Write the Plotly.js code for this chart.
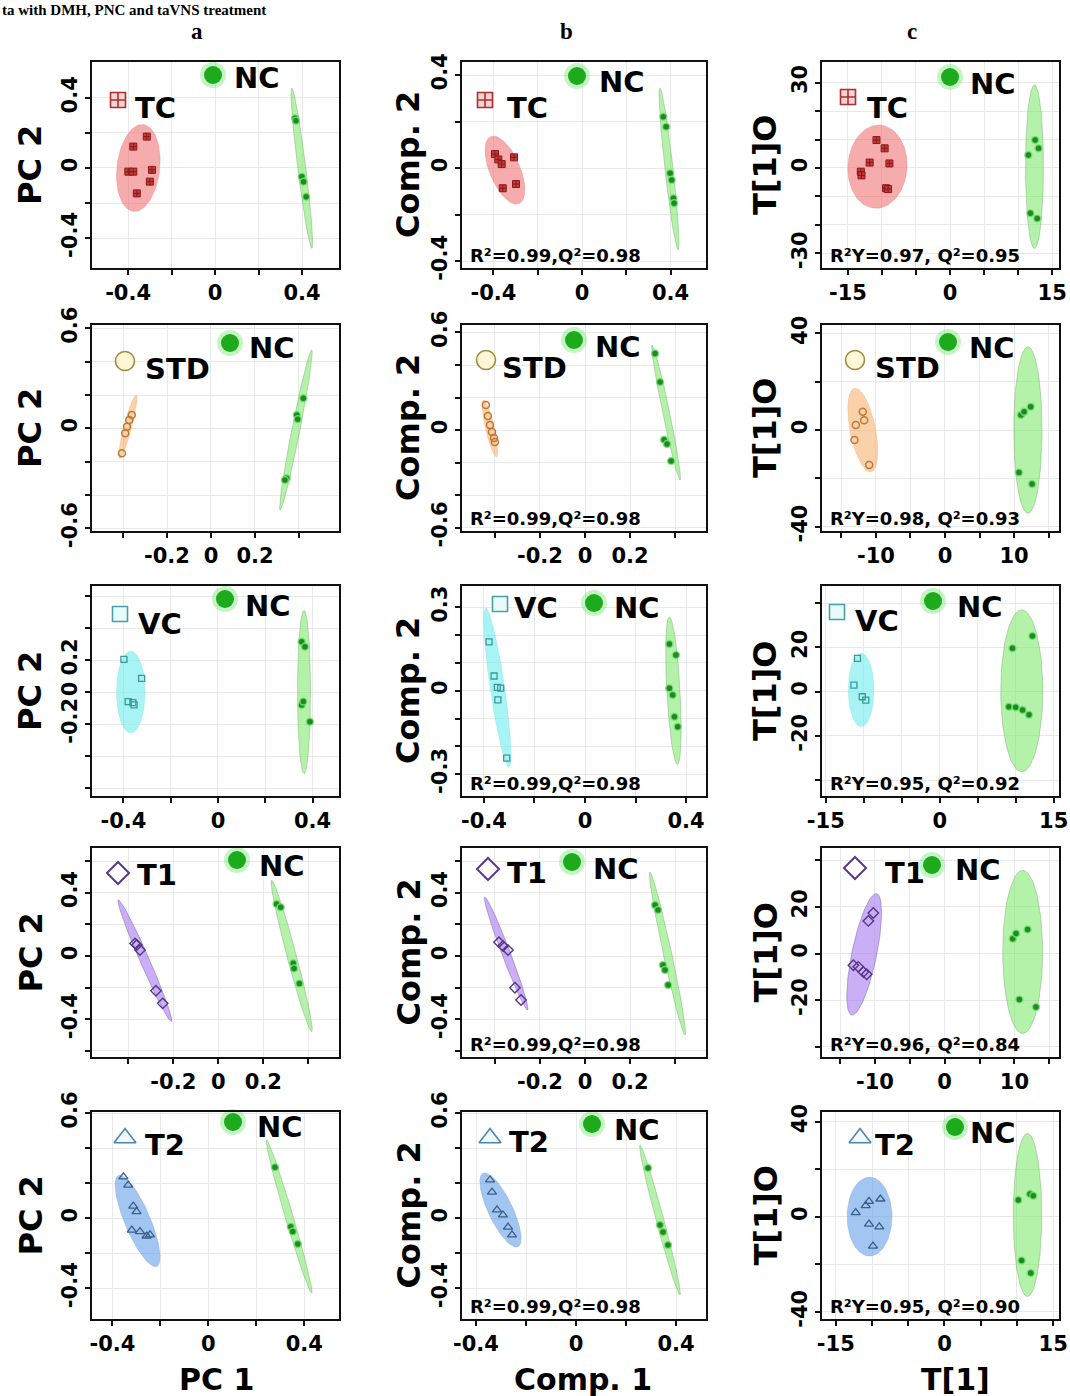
<!DOCTYPE html>
<html><head><meta charset="utf-8">
<script src="https://cdn.plot.ly/plotly-3.0.1.min.js"></script>
<style>body{margin:0;background:#fff}#chart{width:1070px;height:1396px}</style>
</head><body><div id="chart"></div>
<script>
// ---------------- DATA ----------------
// Row 1: TC vs NC
const a1TCx=[-0.314,-0.376,-0.399,-0.376,-0.29,-0.30,-0.36];
const a1TCy=[0.179,0.122,-0.021,-0.021,-0.011,-0.078,-0.145];
const a1NCx=[0.368,0.372,0.399,0.407,0.419];
const a1NCy=[0.284,0.27,-0.05,-0.078,-0.164];
const a1TCell=[-0.353,0,0.023,0.248,0.49];
const a1NCell=[0.399,-0.002,-0.046,0.457,0.05];

const b1TCx=[-0.393,-0.378,-0.363,-0.307,-0.358,-0.298];
const b1TCy=[0.060,0.037,0.017,0.046,-0.087,-0.069];
const b1NCx=[0.367,0.38,0.398,0.405,0.413,0.416];
const b1NCy=[0.221,0.178,-0.023,-0.052,-0.130,-0.152];
const b1TCell=[-0.348,-0.009,-0.064,0.144,0.42];
const b1NCell=[0.393,-0.004,-0.041,0.348,0.05];

const c1TCx=[-10.8,-9.6,-11.8,-8.9,-13.1,-13.0,-9.4,-9.1];
const c1TCy=[9.8,6.9,1.9,1.6,-1.3,-2.6,-7.1,-7.4];
const c1NCx=[11.5,12.5,13.0,11.8,12.8];
const c1NCy=[4.6,9.8,6.9,-15.9,-17.7];
const c1TCell=[-10.66,0.46,0.4,14.6,0.71];
const c1NCell=[12.4,0.46,0,28.7,0.11];

// Row 2: STD vs NC
const a2STDx=[-0.36,-0.372,-0.382,-0.39,-0.405];
const a2STDy=[0.08,0.05,0.01,-0.03,-0.15];
const a2NCx=[0.42,0.39,0.394,0.344,0.336];
const a2NCy=[0.18,0.08,0.054,-0.30,-0.31];
const a2STDell=[-0.378,0.01,0.038,0.19,0.12];
const a2NCell=[0.386,-0.01,0.072,0.48,0.05];

const b2STDx=[-0.44,-0.431,-0.422,-0.413,-0.404,-0.40];
const b2STDy=[0.154,0.086,0.031,-0.012,-0.049,-0.074];
const b2NCx=[0.311,0.333,0.351,0.364,0.382];
const b2NCy=[0.47,0.295,-0.06,-0.086,-0.19];
const b2STDell=[-0.422,0.01,-0.029,0.175,0.15];
const b2NCell=[0.36,0.108,-0.062,0.415,0.05];

const c2STDx=[-11.9,-11.7,-12.9,-13.1,-10.97];
const c2STDy=[7.6,4.1,2.1,-4.1,-14.5];
const c2NCx=[11.0,11.45,12.4,10.7,12.6];
const c2NCy=[6.2,7.6,9.7,-17.6,-22.3];
const c2STDell=[-11.9,0,-1.2,17.3,0.3];
const c2NCell=[12.0,0,0,34.5,0.17];

// Row 3: VC vs NC
const a3VCx=[-0.398,-0.323,-0.38,-0.36,-0.355];
const a3VCy=[0.204,0.085,-0.06,-0.066,-0.081];
const a3NCx=[0.354,0.368,0.354,0.361,0.389];
const a3NCy=[0.314,0.283,-0.081,-0.06,-0.186];
const a3VCell=[-0.369,0,0,0.255,0.35];
const a3NCell=[0.364,0,0,0.51,0.08];

const b3VCx=[-0.38,-0.36,-0.347,-0.334,-0.345,-0.31];
const b3VCy=[0.176,0.053,0.012,0.009,-0.033,-0.243];
const b3NCx=[0.334,0.36,0.334,0.347,0.354,0.367];
const b3NCy=[0.168,0.129,0.009,-0.015,-0.094,-0.13];
const b3VCell=[-0.347,0.011,-0.046,0.286,0.09];
const b3NCell=[0.35,0,-0.016,0.265,0.09];

const c3VCx=[-10.83,-11.3,-9.74,-10.2];
const c3VCy=[15.1,3.0,-3.8,-2.3];
const c3NCx=[9.57,12.2,9.1,10.0,10.9,11.75];
const c3NCy=[19.6,25.2,-6.8,-7.1,-8.3,-10.5];
const c3VCell=[-10.35,0.8,0,16.6,0.35];
const c3NCell=[10.8,0.4,0,36.6,0.26];

// Row 4: T1 vs NC
const a4T1x=[-0.37,-0.362,-0.348,-0.277,-0.247];
const a4T1y=[0.08,0.07,0.038,-0.219,-0.299];
const a4NCx=[0.259,0.277,0.333,0.336,0.36];
const a4NCy=[0.329,0.308,-0.046,-0.078,-0.173];
const a4T1ell=[-0.326,-0.03,-0.118,0.385,0.07];
const a4NCell=[0.326,0,-0.089,0.479,0.06];

const b4T1x=[-0.382,-0.364,-0.342,-0.311,-0.284];
const b4T1y=[0.088,0.063,0.038,-0.2,-0.278];
const b4NCx=[0.311,0.324,0.346,0.355,0.369];
const b4NCy=[0.322,0.291,-0.057,-0.088,-0.183];
const b4T1ell=[-0.35,0.016,-0.095,0.357,0.07];
const b4NCell=[0.366,0.016,-0.078,0.515,0.05];

const c4T1x=[-10.24,-10.95,-13.1,-12.4,-11.67,-11.19];
const c4T1y=[17.4,14.0,-5.0,-5.7,-7.9,-8.9];
const c4NCx=[9.76,10.24,11.9,10.71,13.1];
const c4NCy=[6.4,8.6,10.3,-19.7,-22.9];
const c4T1ell=[-11.55,-0.35,1.79,26.05,0.2];
const c4NCell=[11.19,0.7,0,35,0.245];

// Row 5: T2 vs NC
const a5T2x=[-0.354,-0.334,-0.313,-0.299,-0.319,-0.285,-0.257,-0.243];
const a5T2y=[0.237,0.19,0.07,0.038,-0.067,-0.076,-0.101,-0.095];
const a5NCx=[0.278,0.344,0.352,0.373];
const a5NCy=[0.291,-0.048,-0.076,-0.147];
const a5T2ell=[-0.295,-0.015,-0.08,0.26,0.26];
const a5NCell=[0.337,0.01,-0.094,0.437,0.05];

const b5T2x=[-0.344,-0.336,-0.316,-0.292,-0.272,-0.256];
const b5T2y=[0.219,0.15,0.048,0.019,-0.05,-0.095];
const b5NCx=[0.288,0.336,0.348,0.368];
const b5NCy=[0.287,-0.038,-0.078,-0.153];
const b5T2ell=[-0.302,0.047,-0.07,0.21,0.3];
const b5NCell=[0.336,-0.01,-0.08,0.428,0.05];

const c5T2x=[-12.25,-10.87,-10.42,-8.85,-10.42,-8.99,-9.87];
const c5T2y=[1.8,4.7,6.5,7.5,-3.1,-4.2,-12.3];
const c5NCx=[10.18,11.8,12.25,10.64,11.9];
const c5NCy=[7.1,9.6,8.9,-18.4,-23.6];
const c5T2ell=[-10.34,0.1,0,16.6,0.57];
const c5NCell=[11.45,0.8,0,34.3,0.175];

// Tick values / labels
const pcX=[-0.4,-0.2,0,0.2,0.4];
const pcXlab4=['-0.4','','0','','0.4'];
const pcXlab2=['','-0.2','0','0.2',''];
const pcY4=[-0.4,-0.2,0,0.2,0.4];
const pcY4lab=['-0.4','','0','','0.4'];
const pcY6=[-0.6,-0.4,-0.2,0,0.2,0.4,0.6];
const pcY6lab6=['-0.6','','','0','','','0.6'];
const pcY6lab2=['','','-0.2','0','0.2','',''];
const pcY6lab4=['','-0.4','','0','','0.4',''];
const pcY6lab46=['','-0.4','','0','','','0.6'];
const b3Y=[-0.3,-0.2,-0.1,0,0.1,0.2,0.3];
const b3Ylab=['-0.3','','','0','','','0.3'];
const tX=[-15,-10,-5,0,5,10,15];
const tXlab15=['-15','','','0','','','15'];
const tXlab10=['','-10','','0','','10',''];
const tY30=[-30,-20,-10,0,10,20,30];
const tY30lab=['-30','','','0','','','30'];
const tY40=[-40,-20,0,20,40];
const tY40lab40=['-40','','0','','40'];
const tY40lab20=['','-20','0','20',''];

const r2b='R²=0.99,Q²=0.98';
const r2c=['R²Y=0.97, Q²=0.95','R²Y=0.98, Q²=0.93','R²Y=0.95, Q²=0.92','R²Y=0.96, Q²=0.84','R²Y=0.95, Q²=0.90'];

// ---------------- LAYOUT / STYLE ----------------
const W=1070,H=1396;
const FONT='DejaVu Sans';
const COLX={a:[92,339],b:[462,706],c:[822,1059]};
const ROWY=[[62,268],[325,531],[586,796],[848,1057],[1112,1319]];

const STYLE={
 TC:{fill:'rgba(238,104,104,0.55)',line:'rgba(225,95,95,0.3)',
     pt:{symbol:'square-cross',size:7,color:'#C23A3A',line:{color:'#8B1A1A',width:1}},
     leg:{symbol:'square-cross',size:15,color:'#F9D2D2',line:{color:'#A83232',width:1.6}}},
 STD:{fill:'rgba(245,172,100,0.55)',line:'rgba(220,150,80,0.3)',
     pt:{symbol:'circle-open',size:7,color:'#C07830',line:{width:1.5}},
     leg:{symbol:'circle',size:19,color:'#FFF7D6',line:{color:'#A08A40',width:1.6}}},
 VC:{fill:'rgba(110,236,236,0.6)',line:'rgba(90,210,210,0.3)',
     pt:{symbol:'square-open',size:6,color:'#3A9A9A',line:{width:1.3}},
     leg:{symbol:'square',size:15,color:'#E8FBFB',line:{color:'#4AA0A8',width:1.6}}},
 T1:{fill:'rgba(166,122,240,0.6)',line:'rgba(100,70,150,0.5)',
     pt:{symbol:'diamond-open',size:8,color:'#553785',line:{width:1.4}},
     leg:{symbol:'diamond',size:17,color:'#FFFFFF',line:{color:'#5A3A8A',width:2}}},
 T2:{fill:'rgba(100,160,232,0.6)',line:'rgba(80,140,210,0.3)',
     pt:{symbol:'triangle-up-open',size:8,color:'#3A5F8A',line:{width:1.3}},
     leg:{symbol:'triangle-up',size:19,color:'#F2F8FF',line:{color:'#4A86B0',width:1.6}}},
 NC:{fill:'rgba(118,230,98,0.55)',line:'rgba(95,150,90,0.45)',
     pt:{symbol:'circle',size:7,color:'#1F8A1F',line:{color:'rgba(120,230,120,0.8)',width:1.5}}}
};

// legend offsets (px from panel top-left): [symX,symY,labX,labY,ncX,ncY,nclX,nclY]
const panels=[
 {c:'a',r:0,g:'TC',gx:a1TCx,gy:a1TCy,nx:a1NCx,ny:a1NCy,ge:a1TCell,ne:a1NCell,xr:[-0.566,0.570],yr:[-0.571,0.605],xt:pcX,xl:pcXlab4,yt:pcY4,yl:pcY4lab,lg:[26,38,41,46,121,13,140,16]},
 {c:'b',r:0,g:'TC',gx:b1TCx,gy:b1TCy,nx:b1NCx,ny:b1NCy,ge:b1TCell,ne:b1NCell,xr:[-0.542,0.560],yr:[-0.43,0.456],xt:pcX,xl:pcXlab4,yt:pcY4,yl:pcY4lab,lg:[23,38,43,46,115,14,135,20],r2:r2b},
 {c:'c',r:0,g:'TC',gx:c1TCx,gy:c1TCy,nx:c1NCx,ny:c1NCy,ge:c1TCell,ne:c1NCell,xr:[-18.8,16.0],yr:[-35.1,37.2],xt:tX,xl:tXlab15,yt:tY30,yl:tY30lab,lg:[26,35,43,46,128,15,146,22],r2:r2c[0]},
 {c:'a',r:1,g:'STD',gx:a2STDx,gy:a2STDy,nx:a2NCx,ny:a2NCy,ge:a2STDell,ne:a2NCell,xr:[-0.541,0.582],yr:[-0.616,0.62],xt:pcX,xl:pcXlab2,yt:pcY6,yl:pcY6lab6,lg:[33,36,51,44,138,18,155,23]},
 {c:'b',r:1,g:'STD',gx:b2STDx,gy:b2STDy,nx:b2NCx,ny:b2NCy,ge:b2STDell,ne:b2NCell,xr:[-0.546,0.537],yr:[-0.621,0.646],xt:pcX,xl:pcXlab2,yt:pcY6,yl:pcY6lab6,lg:[24,35,38,43,112,15,131,22],r2:r2b},
 {c:'c',r:1,g:'STD',gx:c2STDx,gy:c2STDy,nx:c2NCx,ny:c2NCy,ge:c2STDell,ne:c2NCell,xr:[-17.8,16.5],yr:[-41.8,43.5],xt:tX,xl:tXlab10,yt:tY40,yl:tY40lab40,lg:[33,35,51,43,126,17,145,23],r2:r2c[1]},
 {c:'a',r:2,g:'VC',gx:a3VCx,gy:a3VCy,nx:a3NCx,ny:a3NCy,ge:a3VCell,ne:a3NCell,xr:[-0.533,0.512],yr:[-0.65,0.6625],xt:pcX,xl:pcXlab4,yt:pcY6,yl:pcY6lab2,lg:[28,28,44,38,133,13,151,20]},
 {c:'b',r:2,g:'VC',gx:b3VCx,gy:b3VCy,nx:b3NCx,ny:b3NCy,ge:b3VCell,ne:b3NCell,xr:[-0.487,0.479],yr:[-0.379,0.377],xt:pcX,xl:pcXlab4,yt:b3Y,yl:b3Ylab,lg:[38,18,50,22,132,17,150,22],r2:r2b},
 {c:'c',r:2,g:'VC',gx:c3VCx,gy:c3VCy,nx:c3NCx,ny:c3NCy,ge:c3VCell,ne:c3NCell,xr:[-15.5,15.7],yr:[-47.2,47.8],xt:tX,xl:tXlab15,yt:tY40,yl:tY40lab20,lg:[15,26,31,35,111,15,133,21],r2:r2c[2]},
 {c:'a',r:3,g:'T1',gx:a4T1x,gy:a4T1y,nx:a4NCx,ny:a4NCy,ge:a4T1ell,ne:a4NCell,xr:[-0.561,0.536],yr:[-0.638,0.683],xt:pcX,xl:pcXlab2,yt:pcY6,yl:pcY6lab4,lg:[26,25,43,27,145,12,165,18]},
 {c:'b',r:3,g:'T1',gx:b4T1x,gy:b4T1y,nx:b4NCx,ny:b4NCy,ge:b4T1ell,ne:b4NCell,xr:[-0.546,0.537],yr:[-0.638,0.683],xt:pcX,xl:pcXlab2,yt:pcY6,yl:pcY6lab4,lg:[26,21,43,25,110,14,129,21],r2:r2b},
 {c:'c',r:3,g:'T1',gx:c4T1x,gy:c4T1y,nx:c4NCx,ny:c4NCy,ge:c4T1ell,ne:c4NCell,xr:[-17.6,16.4],yr:[-44.4,45.3],xt:tX,xl:tXlab10,yt:tY40,yl:tY40lab20,lg:[33,20,61,25,110,17,131,22],r2:r2c[3]},
 {c:'a',r:4,g:'T2',gx:a5T2x,gy:a5T2y,nx:a5NCx,ny:a5NCy,ge:a5T2ell,ne:a5NCell,xr:[-0.485,0.545],yr:[-0.575,0.607],xt:pcX,xl:pcXlab4,yt:pcY6,yl:pcY6lab46,lg:[33,26,51,33,141,10,163,15]},
 {c:'b',r:4,g:'T2',gx:b5T2x,gy:b5T2y,nx:b5NCx,ny:b5NCy,ge:b5T2ell,ne:b5NCell,xr:[-0.456,0.52],yr:[-0.575,0.607],xt:pcX,xl:pcXlab4,yt:pcY6,yl:pcY6lab46,lg:[28,26,45,30,130,12,150,18],r2:r2b},
 {c:'c',r:4,g:'T2',gx:c5T2x,gy:c5T2y,nx:c5NCx,ny:c5NCy,ge:c5T2ell,ne:c5NCell,xr:[-16.9,15.8],yr:[-43.0,44.1],xt:tX,xl:tXlab15,yt:tY40,yl:tY40lab40,lg:[38,26,51,33,133,15,146,21],r2:r2c[4]}
];

const traces=[];
const layout={width:W,height:H,autosize:false,margin:{l:0,r:0,t:0,b:0},
  paper_bgcolor:'#fff',plot_bgcolor:'#fff',showlegend:false,hovermode:false,
  annotations:[]};

function bold(size,color,family){return {family:family||FONT,size:size,color:color||'#000',weight:'bold'};}

function ellipse(e,xr,yr,bw,bh){
  const sx=bw/(xr[1]-xr[0]), sy=bh/(yr[1]-yr[0]);
  const [cx,cy,ux,uy,rt]=e;
  const vx=-uy*sy*rt/sx, vy=ux*sx*rt/sy;
  const X=[],Y=[];
  for(let k=0;k<=90;k++){const t=2*Math.PI*k/90;
    X.push(cx+ux*Math.cos(t)+vx*Math.sin(t));
    Y.push(cy+uy*Math.cos(t)+vy*Math.sin(t));}
  return [X,Y];
}

panels.forEach((p,i)=>{
  const s=i===0?'':String(i+1);
  const xa='x'+s, ya='y'+s;
  const cx=COLX[p.c], ry=ROWY[p.r];
  const bw=cx[1]-cx[0], bh=ry[1]-ry[0];
  const common={showline:true,mirror:true,linecolor:'#111',linewidth:2,ticks:'outside',ticklen:5,tickwidth:2,tickcolor:'#111',
    showgrid:true,gridcolor:'#e9e9e9',gridwidth:1,zeroline:false,tickmode:'array',fixedrange:true,
    tickfont:bold(21)};
  layout['xaxis'+s]=Object.assign({},common,{domain:[cx[0]/W,cx[1]/W],range:p.xr,tickvals:p.xt,ticktext:p.xl,anchor:ya,ticklabelstandoff:0});
  layout['yaxis'+s]=Object.assign({},common,{domain:[1-ry[1]/H,1-ry[0]/H],range:p.yr,tickvals:p.yt,ticktext:p.yl,anchor:xa,tickangle:-90});
  const gs=STYLE[p.g], ns=STYLE.NC;
  [[p.ge,gs],[p.ne,ns]].forEach(([e,st])=>{
    const [X,Y]=ellipse(e,p.xr,p.yr,bw,bh);
    traces.push({x:X,y:Y,xaxis:xa,yaxis:ya,mode:'lines',fill:'toself',fillcolor:st.fill,line:{color:st.line,width:0.8},hoverinfo:'skip'});
  });
  traces.push({x:p.gx,y:p.gy,xaxis:xa,yaxis:ya,mode:'markers',marker:gs.pt,hoverinfo:'skip'});
  traces.push({x:p.nx,y:p.ny,xaxis:xa,yaxis:ya,mode:'markers',marker:ns.pt,hoverinfo:'skip'});
  // legend glyphs (positions given as px offsets inside the panel)
  const L=p.lg;
  const fx=v=>p.xr[0]+(v/bw)*(p.xr[1]-p.xr[0]);
  const fy=v=>p.yr[1]-(v/bh)*(p.yr[1]-p.yr[0]);
  traces.push({x:[fx(L[0])],y:[fy(L[1])],xaxis:xa,yaxis:ya,mode:'markers',cliponaxis:false,marker:gs.leg,hoverinfo:'skip'});
  traces.push({x:[fx(L[4])],y:[fy(L[5])],xaxis:xa,yaxis:ya,mode:'markers',cliponaxis:false,marker:{symbol:'circle',size:26,color:'rgba(90,225,90,0.35)'},hoverinfo:'skip'});
  traces.push({x:[fx(L[4])],y:[fy(L[5])],xaxis:xa,yaxis:ya,mode:'markers',cliponaxis:false,marker:{symbol:'circle',size:18,color:'#1DAA1D'},hoverinfo:'skip'});
  const dref=xa+' domain', yref=ya+' domain';
  layout.annotations.push({xref:dref,yref:yref,x:L[2]/bw,y:1-L[3]/bh,xanchor:'left',yanchor:'middle',showarrow:false,text:p.g,font:bold(29)});
  layout.annotations.push({xref:dref,yref:yref,x:L[6]/bw,y:1-L[7]/bh,xanchor:'left',yanchor:'middle',showarrow:false,text:'NC',font:bold(29)});
  if(p.r2){
    layout.annotations.push({xref:dref,yref:yref,x:6/bw,y:13/bh,xanchor:'left',yanchor:'middle',showarrow:false,text:p.r2,font:bold(18)});
  }
});

// axis titles
const yTitles={a:['PC 2',30],b:['Comp. 2',408],c:['T[1]O',765]};
ROWY.forEach(ry=>{
  Object.keys(yTitles).forEach(k=>{
    layout.annotations.push({xref:'paper',yref:'paper',x:yTitles[k][1]/W,y:1-((ry[0]+ry[1])/2)/H,xanchor:'center',yanchor:'middle',
      textangle:-90,showarrow:false,text:yTitles[k][0],font:bold(32)});
  });
});
const xTitles=[['PC 1',216],['Comp. 1',583],['T[1]',955]];
xTitles.forEach(t=>layout.annotations.push({xref:'paper',yref:'paper',x:t[1]/W,y:1-1379/H,xanchor:'center',yanchor:'middle',showarrow:false,text:t[0],font:bold(30)}));
// column letters
[['a',197],['b',566],['c',912]].forEach(t=>layout.annotations.push({xref:'paper',yref:'paper',x:t[1]/W,y:1-31/H,xanchor:'center',yanchor:'middle',showarrow:false,text:t[0],font:bold(23,'#000','Liberation Serif')}));
// caption line at the very top
layout.annotations.push({xref:'paper',yref:'paper',x:0,y:1,xanchor:'left',yanchor:'top',showarrow:false,text:'ta with DMH, PNC and taVNS treatment',font:bold(15,'#000','Liberation Serif')});

Plotly.newPlot('chart',traces,layout,{staticPlot:true,displayModeBar:false});
</script></body></html>
